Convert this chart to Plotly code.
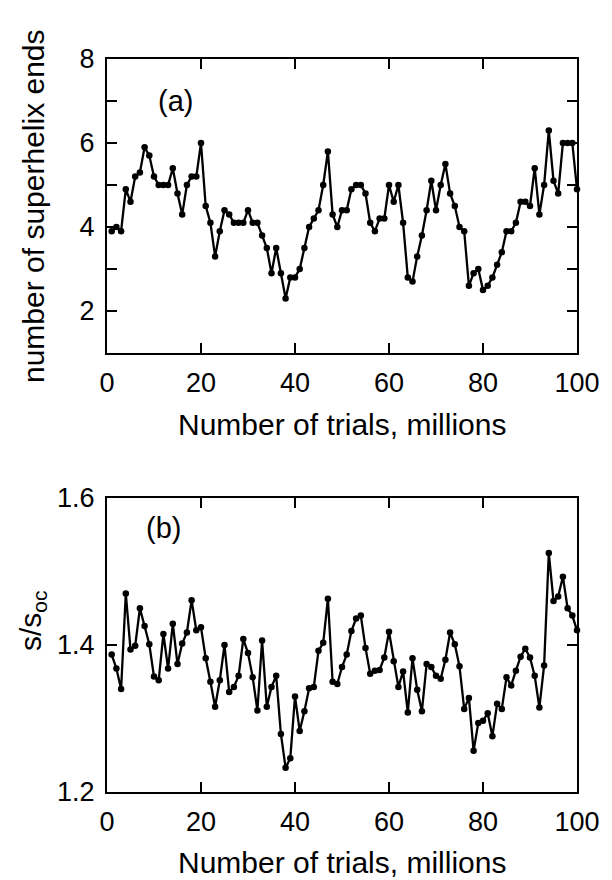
import plotly.graph_objects as go

# Monte Carlo run: one sample per million trials
trials = list(range(1, 101))

# (a) number of superhelix ends
superhelix_ends = [
    3.9, 4.0, 3.9, 4.9, 4.6, 5.2, 5.3, 5.9, 5.7, 5.2,
    5.0, 5.0, 5.0, 5.4, 4.8, 4.3, 5.0, 5.2, 5.2, 6.0,
    4.5, 4.1, 3.3, 3.9, 4.4, 4.3, 4.1, 4.1, 4.1, 4.4,
    4.1, 4.1, 3.8, 3.5, 2.9, 3.5, 2.9, 2.3, 2.8, 2.8,
    3.0, 3.5, 4.0, 4.2, 4.4, 5.0, 5.8, 4.3, 4.0, 4.4,
    4.4, 4.9, 5.0, 5.0, 4.8, 4.1, 3.9, 4.2, 4.2, 5.0,
    4.6, 5.0, 4.1, 2.8, 2.7, 3.3, 3.8, 4.4, 5.1, 4.4,
    5.0, 5.5, 4.8, 4.5, 4.0, 3.9, 2.6, 2.9, 3.0, 2.5,
    2.6, 2.8, 3.1, 3.4, 3.9, 3.9, 4.1, 4.6, 4.6, 4.5,
    5.4, 4.3, 5.0, 6.3, 5.1, 4.8, 6.0, 6.0, 6.0, 4.9,
]

# (b) s / s_oc
s_ratio = [
    1.387, 1.368, 1.340, 1.470, 1.394, 1.399, 1.450, 1.426, 1.401, 1.357,
    1.352, 1.415, 1.368, 1.429, 1.374, 1.402, 1.417, 1.461, 1.420, 1.424,
    1.382, 1.350, 1.316, 1.352, 1.400, 1.336, 1.343, 1.358, 1.408, 1.389,
    1.356, 1.311, 1.406, 1.316, 1.343, 1.358, 1.279, 1.233, 1.246, 1.330,
    1.283, 1.310, 1.341, 1.343, 1.392, 1.403, 1.463, 1.350, 1.347, 1.370,
    1.387, 1.419, 1.436, 1.440, 1.396, 1.361, 1.365, 1.366, 1.383, 1.418,
    1.378, 1.343, 1.364, 1.308, 1.382, 1.339, 1.310, 1.374, 1.370, 1.358,
    1.354, 1.380, 1.417, 1.401, 1.371, 1.313, 1.328, 1.256, 1.294, 1.297,
    1.307, 1.276, 1.320, 1.313, 1.356, 1.345, 1.365, 1.384, 1.395, 1.383,
    1.358, 1.315, 1.372, 1.525, 1.460, 1.466, 1.493, 1.450, 1.440, 1.420,
]

x_ticks = [0, 20, 40, 60, 80, 100]
ends_ticks = [2, 4, 6, 8]
ratio_ticks = [1.2, 1.4, 1.6]
ratio_ticktext = ["1.2", "1.4", "1.6"]

FONT = "Liberation Sans, Arial, Helvetica, sans-serif"
TICK_SIZE = 27
TITLE_SIZE = 30
LABEL_SIZE = 29

line_style = dict(color="black", width=2.3)
marker_style = dict(color="black", size=6.5)

fig = go.Figure()
fig.add_trace(go.Scatter(
    x=trials, y=superhelix_ends, mode="lines+markers",
    line=line_style, marker=marker_style, cliponaxis=False,
    xaxis="x", yaxis="y", showlegend=False,
))
fig.add_trace(go.Scatter(
    x=trials, y=s_ratio, mode="lines+markers",
    line=line_style, marker=marker_style, cliponaxis=False,
    xaxis="x2", yaxis="y2", showlegend=False,
))

axis_common = dict(
    showline=True, linecolor="black", linewidth=2, mirror="ticks",
    ticks="inside", ticklen=10, tickwidth=2, tickcolor="black",
    showgrid=False, zeroline=False, ticklabelstandoff=5,
    tickfont=dict(family=FONT, size=TICK_SIZE, color="black"),
)

fig.update_layout(
    width=612, height=880,
    margin=dict(l=107, r=35, t=59, b=88),
    paper_bgcolor="white", plot_bgcolor="white",
    font=dict(family=FONT, color="black"),
    xaxis=dict(axis_common, domain=[0, 1], anchor="y", range=[0, 100],
               tickvals=x_ticks),
    yaxis=dict(axis_common, domain=[0.5989, 1], anchor="x", range=[1, 8],
               tickvals=ends_ticks,
               minor=dict(tick0=1, dtick=1, ticks="inside", ticklen=10,
                          tickwidth=2, tickcolor="black", showgrid=False)),
    xaxis2=dict(axis_common, domain=[0, 1], anchor="y2", range=[0, 100],
                tickvals=x_ticks),
    yaxis2=dict(axis_common, domain=[0, 0.4011], anchor="x2", range=[1.2, 1.6],
                tickvals=ratio_ticks, ticktext=ratio_ticktext),
)

title_font = dict(family=FONT, size=TITLE_SIZE, color="black")
label_font = dict(family=FONT, size=LABEL_SIZE, color="black")
annotations = [
    # x-axis titles
    dict(text="Number of trials, millions", xref="x domain", yref="y domain",
         x=0.5, y=0, yshift=-71, showarrow=False, font=title_font,
         xanchor="center", yanchor="middle"),
    dict(text="Number of trials, millions", xref="x2 domain", yref="y2 domain",
         x=0.5, y=0, yshift=-70, showarrow=False, font=title_font,
         xanchor="center", yanchor="middle"),
    # y-axis titles
    dict(text="number of superhelix ends", xref="x domain", yref="y domain",
         x=0, y=0.5, xshift=-74, textangle=-90, showarrow=False, font=title_font,
         xanchor="center", yanchor="middle"),
    dict(text="s/s<sub>oc</sub>", xref="x2 domain", yref="y2 domain",
         x=0, y=0.5, xshift=-74, yshift=24, textangle=-90, showarrow=False,
         font=title_font, xanchor="center", yanchor="middle"),
    # panel labels
    dict(text="(a)", xref="x", yref="y", x=14.5, y=7.0, showarrow=False,
         font=label_font, xanchor="center", yanchor="middle"),
    dict(text="(b)", xref="x2", yref="y2", x=12.1, y=1.559, showarrow=False,
         font=label_font, xanchor="center", yanchor="middle"),
]
fig.update_layout(annotations=annotations)

fig.write_html("out.html")
